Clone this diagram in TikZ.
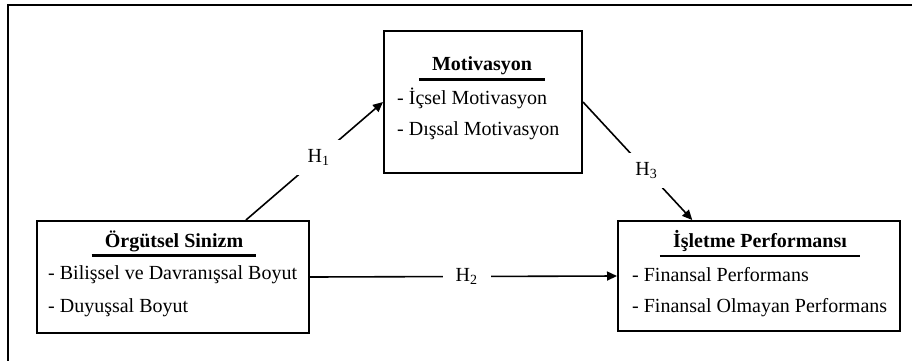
\documentclass[tikz,border=0pt]{standalone}
\usepackage{fontspec}
\setmainfont{Liberation Serif}
\usetikzlibrary{arrows.meta, positioning, calc}

\tikzset{
  kutu/.style={draw, line width=2pt, inner sep=0pt},
  baslik/.style={font=\fontsize{20}{24}\selectfont\bfseries, inner xsep=13pt, inner ysep=4pt},
  madde/.style={font=\fontsize{20}{24}\selectfont, anchor=west, inner sep=0pt},
  yol/.style={line width=1.6pt, -{Triangle[length=10pt, width=9pt]}},
  hipotez/.style={fill=white, font=\fontsize{20}{24}\selectfont, inner xsep=13pt, inner ysep=9pt}
}

\begin{document}
\begin{tikzpicture}[x=1pt, y=-1pt]

% Frame (cropped)
\useasboundingbox (0,0) rectangle (912,360);
\draw[line width=2pt] (7.5,365) -- (7.5,5) -- (917,5);

% --- Boxes ---
\node[kutu, minimum width=198pt, minimum height=142pt] (motivasyon) at (483,102) {};
\node[kutu, minimum width=272pt, minimum height=112pt] (sinizm) at (173,277) {};
\node[kutu, minimum width=282pt, minimum height=110pt] (isletme) at (759,276) {};

% --- Titles with underline ---
\node[baslik] (motivasyon-b) at (482,66) {Motivasyon};
\draw[line width=2.5pt] (motivasyon-b.south west) -- (motivasyon-b.south east);
\node[baslik] (sinizm-b) at (174,241) {Örgütsel Sinizm};
\draw[line width=2.5pt] (sinizm-b.south west) -- (sinizm-b.south east);
\node[baslik] (isletme-b) at (760,241) {İşletme Performansı};
\draw[line width=2.5pt] (isletme-b.south west) -- (isletme-b.south east);

% --- Items ---
\node[madde] (motivasyon-1) at (397,98) {- İçsel Motivasyon};
\node[madde] (motivasyon-2) at (397,131) {- Dışsal Motivasyon};
\node[madde] (sinizm-1) at (48,275) {- Bilişsel ve Davranışsal Boyut};
\node[madde] (sinizm-2) at (48,308) {- Duyuşsal Boyut};
\node[madde] (isletme-1) at (632,275) {- Finansal Performans};
\node[madde] (isletme-2) at (632,308) {- Finansal Olmayan Performans};

% --- Hypotheses ---
\draw[yol] (sinizm.38) -- node[hipotez, pos=0.53] {H\textsubscript{1}} (motivasyon.west);
\draw[yol] (sinizm.east) -- node[hipotez, pos=0.51] {H\textsubscript{2}} (isletme.west);
\draw[yol] (motivasyon.east) -- node[hipotez, pos=0.58] {H\textsubscript{3}} (isletme.140);

\end{tikzpicture}
\end{document}
